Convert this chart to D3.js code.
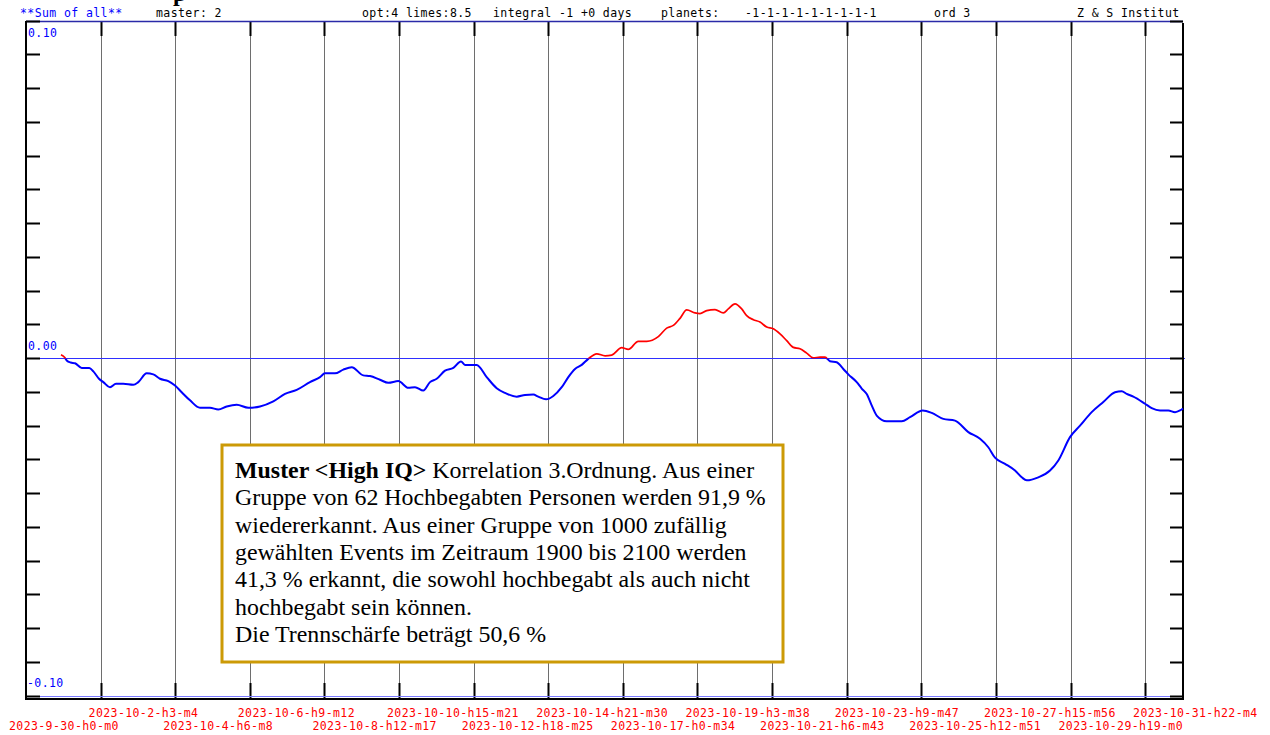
<!DOCTYPE html>
<html><head><meta charset="utf-8">
<script src="https://cdn.jsdelivr.net/npm/d3@7"></script>
<style>
html,body{margin:0;padding:0;background:#fff;}
svg{display:block;}
.mono{font-family:"DejaVu Sans Mono",monospace;font-size:11.5px;letter-spacing:0.4px;}
.serif{font-family:"Liberation Serif","Times New Roman",serif;}
</style></head>
<body>
<svg id="chart" width="1270" height="735"></svg>
<script>
// ---------- data ----------
const days = [0.998,1.112,1.161,1.275,1.398,1.589,1.805,1.920,2.082,2.205,2.396,2.567,2.775,3.060,3.203,3.443,3.631,3.822,4.059,4.250,4.441,4.678,4.963,5.248,5.485,5.725,6.010,6.341,6.674,7.054,7.387,7.721,8.100,8.386,8.528,8.813,9.050,9.290,9.621,9.812,10.097,10.334,10.619,10.904,11.095,11.332,11.523,11.714,11.951,12.188,12.407,12.521,12.855,13.140,13.425,13.662,13.996,14.233,14.469,14.612,14.832,15.040,15.280,15.468,15.659,15.850,16.038,16.278,16.515,16.706,16.991,17.179,17.464,17.704,18.035,18.274,18.463,18.654,18.845,19.082,19.224,19.415,19.652,19.889,20.031,20.223,20.413,20.556,20.745,20.935,21.126,21.315,21.506,21.697,21.885,22.076,22.267,22.456,22.647,22.789,22.932,23.123,23.311,23.454,23.694,23.836,23.979,24.121,24.264,24.549,24.977,25.214,25.576,25.833,26.164,26.497,26.877,27.211,27.447,27.638,27.924,28.209,28.400,28.543,28.873,29.207,29.444,29.777,30.063,30.396,30.727,31.061,31.252,31.395,31.583,31.917,32.108,32.345,32.582,32.773,32.915,33.0];
const values = [0.0011,0.0002,-0.0006,-0.0012,-0.0014,-0.0028,-0.0028,-0.0038,-0.0060,-0.0070,-0.0085,-0.0075,-0.0075,-0.0078,-0.0070,-0.0044,-0.0047,-0.0060,-0.0067,-0.0080,-0.0100,-0.0124,-0.0146,-0.0146,-0.0151,-0.0142,-0.0137,-0.0146,-0.0142,-0.0127,-0.0105,-0.0093,-0.0070,-0.0055,-0.0044,-0.0044,-0.0033,-0.0026,-0.0050,-0.0052,-0.0063,-0.0072,-0.0067,-0.0087,-0.0085,-0.0095,-0.0070,-0.0060,-0.0036,-0.0028,-0.0009,-0.0019,-0.0019,-0.0055,-0.0088,-0.0102,-0.0113,-0.0108,-0.0107,-0.0113,-0.0121,-0.0111,-0.0085,-0.0055,-0.0031,-0.0019,-0.0001,0.0014,0.0008,0.0010,0.0032,0.0027,0.0051,0.0051,0.0065,0.0090,0.0098,0.0119,0.0144,0.0135,0.0133,0.0142,0.0145,0.0135,0.0147,0.0162,0.0147,0.0127,0.0115,0.0108,0.0093,0.0088,0.0073,0.0053,0.0033,0.0029,0.0016,0.0002,0.0004,0.0004,-0.0008,-0.0011,-0.0031,-0.0047,-0.0070,-0.0089,-0.0105,-0.0139,-0.0169,-0.0186,-0.0186,-0.0174,-0.0154,-0.0161,-0.0179,-0.0184,-0.0218,-0.0238,-0.0263,-0.0294,-0.0312,-0.0332,-0.0352,-0.0361,-0.0352,-0.0332,-0.0302,-0.0233,-0.0199,-0.0159,-0.0129,-0.0100,-0.0097,-0.0105,-0.0113,-0.0134,-0.0147,-0.0154,-0.0154,-0.0159,-0.0154,-0.0148];
const tickLabels = ["2023-9-30-h0-m0","2023-10-2-h3-m4","2023-10-4-h6-m8","2023-10-6-h9-m12","2023-10-8-h12-m17","2023-10-10-h15-m21","2023-10-12-h18-m25","2023-10-14-h21-m30","2023-10-17-h0-m34","2023-10-19-h3-m38","2023-10-21-h6-m43","2023-10-23-h9-m47","2023-10-25-h12-m51","2023-10-27-h15-m56","2023-10-29-h19-m0","2023-10-31-h22-m4"];
const yLabelValues = [0.10, 0.00, -0.10];
const headerTexts = ["**Sum of all**","master: 2","opt:4 limes:8.5","integral -1 +0 days","planets:","-1-1-1-1-1-1-1-1-1","ord 3","Z & S Institut"];
const noteLines = [
  [["Muster <High IQ>",true],[" Korrelation 3.Ordnung. Aus einer",false]],
  [["Gruppe von 62 Hochbegabten Personen werden 91,9 %",false]],
  [["wiedererkannt. Aus einer Gruppe von 1000 zufällig",false]],
  [["gewählten Events im Zeitraum 1900 bis 2100 werden",false]],
  [["41,3 % erkannt, die sowohl hochbegabt als auch nicht",false]],
  [["hochbegabt sein können.",false]],
  [["Die Trennschärfe beträgt 50,6 %",false]]
];

// ---------- layout ----------
const L = 26, R = 1183, T = 21, B = 699;
const t0 = Date.UTC(2023, 8, 30), t1 = Date.UTC(2023, 10, 2);
const DAY = 864e5;
const x = d3.scaleUtc().domain([t0, t1]).range([L, R]);
const y = d3.scaleLinear().domain([-0.10, 0.10]).range([696, T]);

const parseLabel = s => {
  const m = s.match(/(\d+)-(\d+)-(\d+)-h(\d+)-m(\d+)/);
  return new Date(Date.UTC(+m[1], +m[2] - 1, +m[3], +m[4], +m[5]));
};
const tickDates = tickLabels.map(parseLabel);
const data = days.map((d, i) => ({ t: new Date(t0 + d * DAY), v: values[i] }));

const svg = d3.select("#chart");

// clipped title remnant (cut off at the top edge, as in the original)
svg.append("text").attr("class","serif").attr("x",173).attr("y",1)
  .attr("font-size",24).attr("font-weight","bold").attr("fill","#000").text("p");

// gridlines
svg.append("g").selectAll("line").data(tickDates.slice(1)).join("line")
  .attr("x1", d => Math.round(x(d)) + 0.5).attr("x2", d => Math.round(x(d)) + 0.5)
  .attr("y1", T).attr("y2", B).attr("stroke", "#6e6e6e").attr("stroke-width", 1);
// gridline ticks top/bottom
const gt = svg.append("g").attr("stroke","#000").attr("stroke-width",2);
gt.selectAll("line.top").data(tickDates.slice(1)).join("line").attr("class","top")
  .attr("x1", d => Math.round(x(d)) + 0.5).attr("x2", d => Math.round(x(d)) + 0.5)
  .attr("y1", T).attr("y2", T + 15);
gt.selectAll("line.bot").data(tickDates.slice(1)).join("line").attr("class","bot")
  .attr("x1", d => Math.round(x(d)) + 0.5).attr("x2", d => Math.round(x(d)) + 0.5)
  .attr("y1", B - 16).attr("y2", B);

// horizontal reference lines
svg.append("line").attr("x1", L).attr("x2", R).attr("y1", y(0.10)+0.5).attr("y2", y(0.10)+0.5)
  .attr("stroke", "#2a2aa8").attr("stroke-width", 1.5);
const y0 = Math.floor(y(0)) + 0.5;
svg.append("line").attr("x1", L).attr("x2", R + 2).attr("y1", y0).attr("y2", y0)
  .attr("stroke", "#2f2fff").attr("stroke-width", 1);
svg.append("line").attr("x1", L).attr("x2", R).attr("y1", Math.round(y(-0.10))+0.5).attr("y2", Math.round(y(-0.10))+0.5)
  .attr("stroke", "#7a7aff").attr("stroke-width", 1);

// axes frame
const fr = svg.append("g").attr("stroke","#000").attr("stroke-width",2);
fr.append("line").attr("x1", L).attr("x2", L).attr("y1", T).attr("y2", B + 1);
fr.append("line").attr("x1", L).attr("x2", R + 1).attr("y1", B).attr("y2", B);
fr.append("line").attr("x1", R).attr("x2", R).attr("y1", T + 2).attr("y2", B);

// y ticks (left and right, inward)
const yt = d3.range(-10, 11).map(k => k / 100);
fr.selectAll("line.yl").data(yt).join("line").attr("class","yl")
  .attr("x1", L).attr("x2", L + 14).attr("y1", d => Math.floor(y(d)) + 0.5).attr("y2", d => Math.floor(y(d)) + 0.5);
fr.selectAll("line.yr").data(yt).join("line").attr("class","yr")
  .attr("x1", R - 13).attr("x2", R).attr("y1", d => Math.floor(y(d)) + 0.5).attr("y2", d => Math.floor(y(d)) + 0.5);

// y labels
svg.append("g").selectAll("text").data(yLabelValues).join("text")
  .attr("class","mono").attr("fill","#0000ff")
  .attr("x", d => d < 0 ? L + 1 : L + 2)
  .attr("y", d => y(d) + (d > 0 ? 16 : -9))
  .text(d => d3.format(".2f")(d).replace("−","-"));

// x labels
svg.append("g").selectAll("text").data(tickDates).join("text")
  .attr("class","mono").attr("fill","#ff0000")
  .attr("x", (d, i) => x(d) - (i === 0 ? 17 : 12))
  .attr("y", (d, i) => i % 2 === 1 ? 717 : 730)
  .text((d, i) => tickLabels[i]);

// header
const headerX = [20, 156, 362, 493, 661, 745, 934, 1077];
svg.append("g").selectAll("text").data(headerTexts).join("text")
  .attr("class","mono").attr("fill", (d, i) => i === 0 ? "#0000ff" : "#000")
  .attr("x", (d, i) => headerX[i]).attr("y", 17).text(d => d);

// curve, red above zero, blue below
const defs = svg.append("defs");
defs.append("clipPath").attr("id","above").append("rect")
  .attr("x", 0).attr("y", 0).attr("width", 1270).attr("height", y(0));
defs.append("clipPath").attr("id","below").append("rect")
  .attr("x", 0).attr("y", y(0)).attr("width", 1270).attr("height", 735 - y(0));
const line = d3.line().x(d => x(d.t)).y(d => y(d.v)).curve(d3.curveMonotoneX);
svg.append("path").datum(data).attr("d", line).attr("fill","none")
  .attr("stroke","#0000ff").attr("stroke-width",2).attr("stroke-linejoin","round")
  .attr("clip-path","url(#below)");
svg.append("path").datum(data).attr("d", line).attr("fill","none")
  .attr("stroke","#ff0000").attr("stroke-width",1.7).attr("stroke-linejoin","round")
  .attr("clip-path","url(#above)");

// note box
svg.append("rect").attr("x", 222).attr("y", 445).attr("width", 561).attr("height", 217)
  .attr("fill","#fff").attr("stroke","#cc9a06").attr("stroke-width",3);
const nt = svg.append("g").attr("class","serif").attr("font-size",23.9).attr("fill","#000");
noteLines.forEach((parts, i) => {
  const t = nt.append("text").attr("x", 235).attr("y", 478 + i * 27.3);
  parts.forEach(([s, b]) => t.append("tspan").attr("font-weight", b ? "bold" : "normal").text(s));
});
</script>
</body></html>
